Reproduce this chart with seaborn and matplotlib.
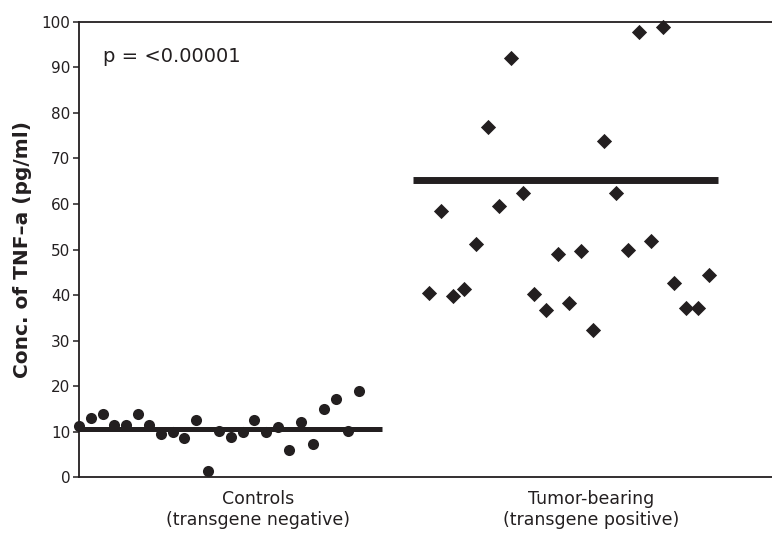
import numpy as np
import pandas as pd
import matplotlib
matplotlib.use("Agg")
import matplotlib.pyplot as plt
import seaborn as sns

# ---- data ----
controls = [11.2, 13.1, 14.0, 11.5, 11.5, 13.8, 11.5, 9.6, 10.0, 8.7, 12.6, 1.4,
            10.1, 8.9, 10.0, 12.6, 9.9, 11.1, 6.0, 12.2, 7.2, 15.1, 17.1, 10.1, 18.9]
tumor = [40.5, 58.5, 39.8, 41.3, 51.2, 76.9, 59.5, 92.0, 62.3, 40.2, 36.7, 49.0,
         38.2, 49.7, 32.3, 73.8, 62.3, 50.0, 97.8, 51.8, 98.9, 42.6, 37.1, 37.1, 44.4]
group_lines = [10.7, 65.3]
categories = ["Controls\n(transgene negative)", "Tumor-bearing\n(transgene positive)"]
y_ticks = [0, 10, 20, 30, 40, 50, 60, 70, 80, 90, 100]
y_label = "Conc. of TNF–a (pg/ml)"
p_text = "p = <0.00001"

# ---- layout ----
ink = "#231f20"
tumor_offset = 30
df_c = pd.DataFrame({"x": np.arange(len(controls)), "value": controls})
df_t = pd.DataFrame({"x": np.arange(len(tumor)) + tumor_offset, "value": tumor})

sns.set_style("white")
plt.rcParams["font.family"] = ["DejaVu Sans"]

fig = plt.figure(figsize=(7.72, 5.43), dpi=100)
ax = fig.add_axes([78.5 / 772, 1 - 477.3 / 543, 1 - 78.5 / 772, (477.3 - 21.7) / 543])

sns.scatterplot(data=df_c, x="x", y="value", marker="o", s=64, color=ink,
                linewidth=0, ax=ax, clip_on=False, zorder=3)
sns.scatterplot(data=df_t, x="x", y="value", marker="D", s=60, color=ink,
                linewidth=0, ax=ax, clip_on=False, zorder=3)

ax.hlines(group_lines[0], -0.1, len(controls) + 0.9, color=ink, lw=3.6, zorder=2)
ax.hlines(group_lines[1], tumor_offset - 1.4, tumor_offset + len(tumor) - 0.25,
          color=ink, lw=5.0, zorder=2)

ax.set_xlim(-0.07, 59.36)
ax.set_ylim(0, 100)
ax.set_yticks(y_ticks)
ax.set_yticklabels([str(v) for v in y_ticks], fontsize=11)
ax.set_xticks([15.3, 43.9])
ax.set_xticklabels(categories, fontsize=12.5, multialignment="center")
ax.tick_params(axis="x", length=0, pad=9)
ax.tick_params(axis="y", length=4.5, width=1.1, color=ink, pad=1.5, direction="out", left=True)
ax.set_xlabel("")
ax.set_ylabel(y_label, fontsize=14.5, fontweight="bold", labelpad=7, color=ink)
for lbl in ax.get_xticklabels() + ax.get_yticklabels():
    lbl.set_color(ink)

for side in ["left", "top", "bottom"]:
    ax.spines[side].set_visible(True)
    ax.spines[side].set_color(ink)
    ax.spines[side].set_linewidth(1.3)
ax.spines["right"].set_visible(False)

ax.text(2.03, 91.2, p_text, fontsize=14, color=ink, ha="left", va="baseline")

fig.savefig("out.png", dpi=100)
